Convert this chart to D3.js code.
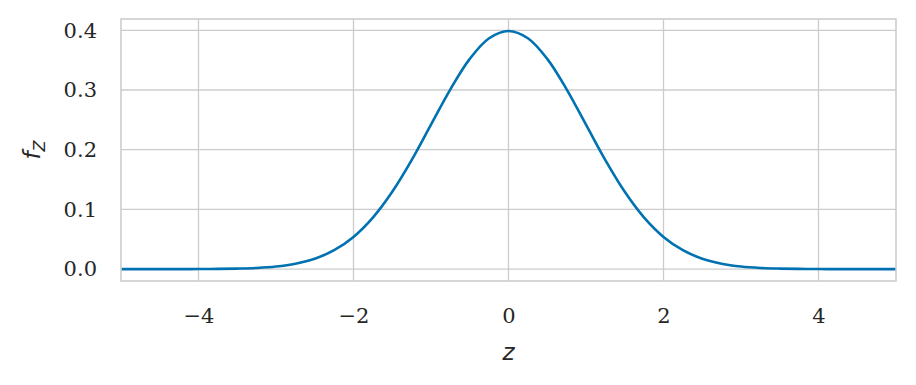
<!DOCTYPE html>
<html>
<head>
<meta charset="utf-8">
<script src="https://cdn.jsdelivr.net/npm/d3@7"></script>
<style>
  body { margin: 0; background: #fff; }
  .tick text { font-family: "DejaVu Serif", serif; font-size: 21px; fill: #262626; }
  .axlabel { font-family: "DejaVu Sans", sans-serif; font-style: italic; font-size: 23px; fill: #262626; }
</style>
</head>
<body>
<svg id="chart" width="916" height="385"></svg>
<script>
// values (density curve)
const zVals = [-5, -4.75, -4.5, -4.25, -4, -3.75, -3.5, -3.25, -3, -2.75, -2.5, -2.25, -2, -1.75, -1.5, -1.25, -1, -0.75, -0.5, -0.25,
  0, 0.25, 0.5, 0.75, 1, 1.25, 1.5, 1.75, 2, 2.25, 2.5, 2.75, 3, 3.25, 3.5, 3.75, 4, 4.25, 4.5, 4.75, 5];
const fVals = [0, 0, 0, 0, 0.0001, 0.0004, 0.0009, 0.002, 0.0044, 0.0091, 0.0175, 0.0317, 0.054, 0.0863, 0.1295, 0.1826, 0.242, 0.3011, 0.3521, 0.3867,
  0.3989, 0.3867, 0.3521, 0.3011, 0.242, 0.1826, 0.1295, 0.0863, 0.054, 0.0317, 0.0175, 0.0091, 0.0044, 0.002, 0.0009, 0.0004, 0.0001, 0, 0, 0, 0];
const xTicks = [-4, -2, 0, 2, 4];
const yTicks = [0, 0.1, 0.2, 0.3, 0.4];

const MARGIN = { LEFT: 121, RIGHT: 20, TOP: 19, BOTTOM: 104 };
const width = 916, height = 385;

let svg = d3.select("#chart");

let x = d3.scaleLinear().domain([-5, 5]).range([MARGIN.LEFT, width - MARGIN.RIGHT]);
let y = d3.scaleLinear().domain([-0.0199, 0.4189]).range([height - MARGIN.BOTTOM, MARGIN.TOP]);

// grid
let grid = svg.append("g");
grid.selectAll(".gx").data(xTicks).enter().append("line")
  .attr("x1", d => x(d)).attr("x2", d => x(d))
  .attr("y1", MARGIN.TOP).attr("y2", height - MARGIN.BOTTOM)
  .attr("stroke", "#cccccc").attr("stroke-width", 1.3);
grid.selectAll(".gy").data(yTicks).enter().append("line")
  .attr("y1", d => y(d)).attr("y2", d => y(d))
  .attr("x1", MARGIN.LEFT).attr("x2", width - MARGIN.RIGHT)
  .attr("stroke", "#cccccc").attr("stroke-width", 1.3);

// curve
let line = d3.line()
  .x((d, i) => x(zVals[i]))
  .y(d => y(d))
  .curve(d3.curveCatmullRom);

svg.append("path")
  .datum(fVals)
  .attr("d", line)
  .attr("fill", "none")
  .attr("stroke", "#0072b2")
  .attr("stroke-width", 2.6);

// frame
svg.append("rect")
  .attr("x", MARGIN.LEFT).attr("y", MARGIN.TOP)
  .attr("width", width - MARGIN.RIGHT - MARGIN.LEFT)
  .attr("height", height - MARGIN.BOTTOM - MARGIN.TOP)
  .attr("fill", "none").attr("stroke", "#cccccc").attr("stroke-width", 1.6);

// axes
let xAxis = d3.axisBottom(x).tickValues(xTicks).tickSize(0).tickPadding(27)
  .tickFormat(d => d < 0 ? "\u2212" + Math.abs(d) : d);
svg.append("g")
  .attr("transform", "translate(0," + (height - MARGIN.BOTTOM) + ")")
  .call(xAxis)
  .call(g => g.select(".domain").remove());

let yAxis = d3.axisLeft(y).tickValues(yTicks).tickSize(0).tickPadding(24)
  .tickFormat(d3.format(".1f"));
svg.append("g")
  .attr("transform", "translate(" + MARGIN.LEFT + ",0)")
  .call(yAxis)
  .call(g => g.select(".domain").remove());

// labels
svg.append("text")
  .attr("class", "axlabel")
  .attr("text-anchor", "middle")
  .attr("x", x(0)).attr("y", 360)
  .text("z");

let yl = svg.append("text")
  .attr("class", "axlabel")
  .attr("text-anchor", "middle")
  .attr("transform", "translate(40," + 150 + ") rotate(-90)");
yl.append("tspan").text("f");
yl.append("tspan").attr("dy", 5).style("font-size", "16px").text("Z");
</script>
</body>
</html>
